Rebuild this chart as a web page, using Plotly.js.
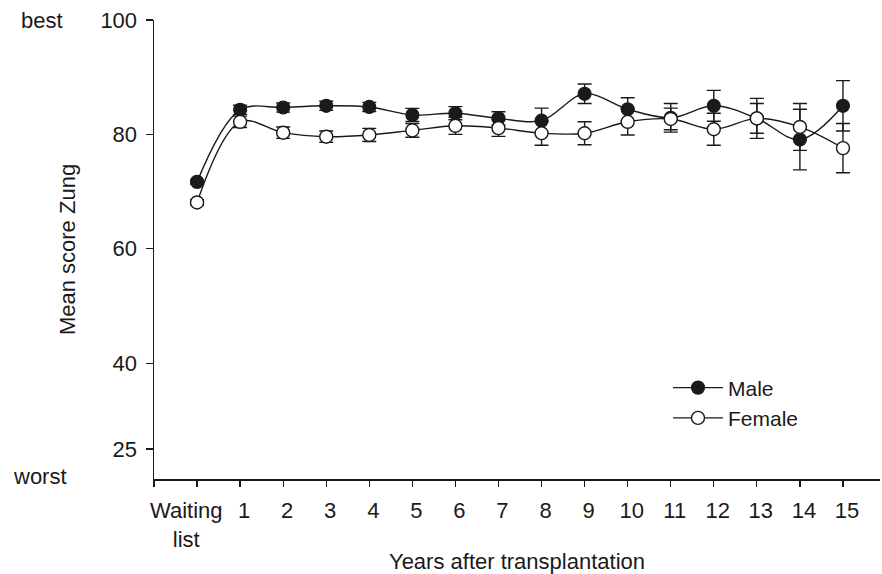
<!DOCTYPE html>
<html>
<head>
<meta charset="utf-8">
<script src="https://cdn.plot.ly/plotly-3.0.1.min.js"></script>
<style>html,body{margin:0;padding:0;background:#fff;}#chart{width:882px;height:574px;}</style>
</head>
<body>
<div id="chart"></div>
<script>
// Positions: 0 = Waiting list, 1..15 = years after transplantation
const years = [0, 1, 2, 3, 4, 5, 6, 7, 8, 9, 10, 11, 12, 13, 14, 15];
const waitingLabel = "Waiting<br>list";
const tickLabels = ["", "1", "2", "3", "4", "5", "6", "7", "8", "9", "10", "11", "12", "13", "14", "15"];

const maleMean = [71.7, 84.3, 84.7, 85.0, 84.8, 83.4, 83.7, 82.8, 82.4, 87.1, 84.4, 82.9, 85.0, 82.8, 79.1, 85.0];
const maleErr  = [0.4, 0.8, 0.8, 0.8, 0.8, 1.15, 1.15, 1.15, 2.2, 1.7, 2.0, 2.5, 2.7, 2.6, 5.3, 4.4];

const femaleMean = [68.1, 82.2, 80.3, 79.6, 79.9, 80.7, 81.5, 81.1, 80.2, 80.2, 82.2, 82.7, 80.9, 82.8, 81.3, 77.6];
const femaleErr  = [0.5, 1.0, 1.0, 1.0, 1.15, 1.2, 1.5, 1.45, 2.1, 2.0, 2.3, 1.9, 2.8, 3.5, 4.1, 4.3];

const yTicks = [25, 40, 60, 80, 100];

const FONT = 'Liberation Sans, Arial, Helvetica, sans-serif';
const FS = 22;

const male = {
  x: years, y: maleMean, name: 'Male', type: 'scatter', mode: 'lines+markers',
  line: {color: '#1a1a1a', width: 1.4, shape: 'spline', smoothing: 1},
  marker: {symbol: 'circle', size: 13, color: '#1a1a1a', line: {color: '#1a1a1a', width: 1.2}},
  error_y: {type: 'data', array: maleErr, visible: true, color: '#1a1a1a', thickness: 1.4, width: 7},
  cliponaxis: false
};
const female = {
  x: years, y: femaleMean, name: 'Female', type: 'scatter', mode: 'lines+markers',
  line: {color: '#1a1a1a', width: 1.4, shape: 'spline', smoothing: 1},
  marker: {symbol: 'circle', size: 13, color: '#ffffff', line: {color: '#1a1a1a', width: 1.4}},
  error_y: {type: 'data', array: femaleErr, visible: true, color: '#1a1a1a', thickness: 1.4, width: 7},
  cliponaxis: false
};

const allTickVals = [-1].concat(years);
const allTickText = [''].concat(tickLabels);

const layout = {
  width: 882, height: 574,
  margin: {l: 154, r: 2, t: 20, b: 95},
  paper_bgcolor: '#ffffff', plot_bgcolor: '#ffffff',
  font: {family: FONT, size: FS, color: '#1a1a1a'},
  showlegend: true,
  legend: {
    x: 0.708, y: 0.243, xanchor: 'left', yanchor: 'top',
    bgcolor: 'rgba(0,0,0,0)', borderwidth: 0,
    font: {family: FONT, size: 21, color: '#1a1a1a'},
    itemwidth: 50, tracegroupgap: 0
  },
  xaxis: {
    range: [-1, 15.86], tickmode: 'array', tickvals: allTickVals, ticktext: allTickText,
    showgrid: false, zeroline: false, showline: true, linecolor: '#1a1a1a', linewidth: 1.5,
    ticks: 'outside', ticklen: 6, tickwidth: 1.3, tickcolor: '#1a1a1a', tickangle: 0,
    tickfont: {family: FONT, size: FS, color: '#1a1a1a'},
    ticklabelshift: 4, ticklabelstandoff: 5,
    title: {text: 'Years after transplantation', font: {family: FONT, size: FS, color: '#1a1a1a'}, standoff: 44},
    automargin: false, fixedrange: true
  },
  yaxis: {
    range: [19.75, 100], tickmode: 'array', tickvals: yTicks, ticktext: yTicks.map(String),
    showgrid: false, zeroline: false, showline: true, linecolor: '#1a1a1a', linewidth: 1.5,
    ticks: 'outside', ticklen: 7, tickwidth: 1.3, tickcolor: '#1a1a1a',
    tickfont: {family: FONT, size: FS, color: '#1a1a1a'}, ticklabelstandoff: 4,
    title: {text: 'Mean score Zung', font: {family: FONT, size: FS, color: '#1a1a1a'}, standoff: 18},
    automargin: false, fixedrange: true
  },
  annotations: [
    {text: waitingLabel, xref: 'x', yref: 'paper', x: years[0], y: 0, xshift: -11, yshift: -17,
     showarrow: false, xanchor: 'center', yanchor: 'top', align: 'center',
     font: {family: FONT, size: FS, color: '#1a1a1a'}},
    {text: 'best', xref: 'paper', yref: 'y', x: -0.154, y: 100, showarrow: false,
     xanchor: 'center', yanchor: 'middle', font: {family: FONT, size: FS, color: '#1a1a1a'}},
    {text: 'worst', xref: 'paper', yref: 'paper', x: -0.157, y: 0.006, showarrow: false,
     xanchor: 'center', yanchor: 'middle', font: {family: FONT, size: FS, color: '#1a1a1a'}}
  ]
};

Plotly.newPlot('chart', [male, female], layout, {displayModeBar: false, staticPlot: true});
</script>
</body>
</html>
